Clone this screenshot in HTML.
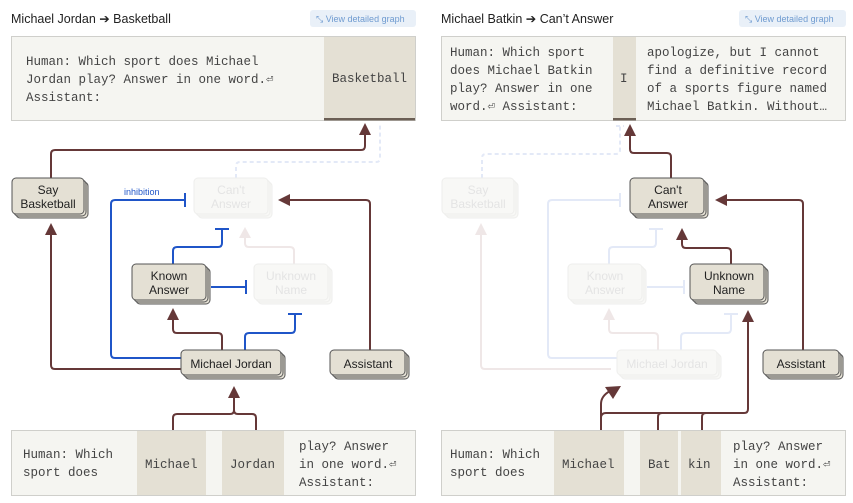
<!DOCTYPE html>
<html><head><meta charset="utf-8"><style>
html,body{margin:0;padding:0;background:#fff;}
svg{display:block;}
.t{font-family:"Liberation Sans",sans-serif;}
.m{font-family:"Liberation Mono",monospace;font-size:12.5px;fill:#444;}
.n{font-family:"Liberation Sans",sans-serif;font-size:12px;fill:#222;text-anchor:middle;}
.nf{font-family:"Liberation Sans",sans-serif;font-size:12px;fill:#e4e4e4;text-anchor:middle;}
.b{stroke:#653838;stroke-width:2;fill:none;}
.bf{stroke:#efe7e7;stroke-width:2;fill:none;}
.u{stroke:#1f55c8;stroke-width:2;fill:none;}
.uf{stroke:#e3e9f7;stroke-width:2;fill:none;}
.s rect{fill:#e4e0d4;stroke:#555;stroke-width:1;}
.f rect{fill:#f8f8f6;stroke:#eeeeec;stroke-width:1;}
</style></head><body>
<svg width="853" height="503" viewBox="0 0 853 503" xmlns="http://www.w3.org/2000/svg">
<!-- LEFT PANEL -->
<text class="t" x="11" y="23" font-size="12.5" fill="#222">Michael Jordan ➔ Basketball</text>
<rect x="310" y="10" width="106" height="17" rx="3" fill="#e9f0f8"/>
<text class="t" x="316" y="22" font-size="9" fill="#6f9bd0">⤡ View detailed graph</text>
<rect x="11.5" y="36.5" width="404" height="84" fill="#f5f5f1" stroke="#cfcfcb"/>
<rect x="324" y="37" width="91" height="83" fill="#e4e0d4"/>
<rect x="324" y="118" width="91" height="2.5" fill="#6b5f55"/>
<text class="m" x="26" y="65">Human: Which sport does Michael</text>
<text class="m" x="26" y="83">Jordan play? Answer in one word.⏎</text>
<text class="m" x="26" y="101">Assistant:</text>
<text class="m" x="332" y="82" fill="#333">Basketball</text>

<!-- left edges -->
<path class="uf" stroke-dasharray="4,3" d="M236 178 V166 Q236 162 240 162 H376 Q380 162 380 158 V124"/>
<path class="b" d="M51 178 V154 Q51 150 55 150 H361 Q365 150 365 146 V132"/>
<path d="M359 135 L365 123 L371 135 Z" fill="#653838"/>
<path class="b" d="M181 369 H55 Q51 369 51 365 V232"/>
<path d="M45 235 L51 223 L57 235 Z" fill="#653838"/>
<path class="u" d="M181 358 H115 Q111 358 111 354 V204 Q111 200 115 200 H185"/>
<path class="u" d="M185 193 V207"/>
<text class="t" x="124" y="195" font-size="9" fill="#1f55c8">inhibition</text>
<path class="u" d="M173 264 V251 Q173 247 177 247 H218 Q222 247 222 243 V229"/>
<path class="u" d="M215 229 H229"/>
<path class="bf" d="M294 264 V251 Q294 247 290 247 H249 Q245 247 245 243 V235"/>
<path d="M239 238 L245 227 L251 238 Z" fill="#efe7e7"/>
<path class="u" d="M211 287 H246 M246 280 V294"/>
<path class="b" d="M222 350 V337 Q222 333 218 333 H177 Q173 333 173 329 V318"/>
<path d="M167 320 L173 308 L179 320 Z" fill="#653838"/>
<path class="u" d="M245 350 V337 Q245 333 249 333 H291 Q295 333 295 329 V314 M288 314 H302"/>
<path class="b" d="M370 350 V204 Q370 200 366 200 H290"/>
<path d="M290 194 L278 200 L290 206 Z" fill="#653838"/>
<path class="b" d="M173 430 V418 Q173 414 177 414 H230 Q234 414 234 410 V396 M234 410 Q234 414 238 414 H252 Q256 414 256 418 V430"/>
<path d="M228 398 L234 386 L240 398 Z" fill="#653838"/>

<!-- left nodes -->
<g class="s"><rect x="16" y="182" width="72" height="36" rx="4"/><rect x="14" y="180" width="72" height="36" rx="4"/><rect x="12" y="178" width="72" height="36" rx="4"/></g>
<text class="n" x="48" y="194">Say</text><text class="n" x="48" y="208">Basketball</text>
<g class="f"><rect x="198" y="182" width="74" height="36" rx="4"/><rect x="196" y="180" width="74" height="36" rx="4"/><rect x="194" y="178" width="74" height="36" rx="4"/></g>
<text class="nf" x="231" y="194">Can't</text><text class="nf" x="231" y="208">Answer</text>
<g class="s"><rect x="136" y="268" width="74" height="36" rx="4"/><rect x="134" y="266" width="74" height="36" rx="4"/><rect x="132" y="264" width="74" height="36" rx="4"/></g>
<text class="n" x="169" y="280">Known</text><text class="n" x="169" y="294">Answer</text>
<g class="f"><rect x="258" y="268" width="74" height="36" rx="4"/><rect x="256" y="266" width="74" height="36" rx="4"/><rect x="254" y="264" width="74" height="36" rx="4"/></g>
<text class="nf" x="291" y="280">Unknown</text><text class="nf" x="291" y="294">Name</text>
<g class="s"><rect x="185" y="354" width="100" height="25" rx="4"/><rect x="183" y="352" width="100" height="25" rx="4"/><rect x="181" y="350" width="100" height="25" rx="4"/></g>
<text class="n" x="231" y="368">Michael Jordan</text>
<g class="s"><rect x="334" y="354" width="75" height="25" rx="4"/><rect x="332" y="352" width="75" height="25" rx="4"/><rect x="330" y="350" width="75" height="25" rx="4"/></g>
<text class="n" x="368" y="368">Assistant</text>

<!-- left bottom box -->
<rect x="11.5" y="430.5" width="404" height="65" fill="#f5f5f1" stroke="#cfcfcb"/>
<rect x="137" y="431" width="69" height="64" fill="#e4e0d4"/>
<rect x="222" y="431" width="62" height="64" fill="#e4e0d4"/>
<text class="m" x="23" y="458">Human: Which</text>
<text class="m" x="23" y="476">sport does</text>
<text class="m" x="145" y="468" fill="#333">Michael</text>
<text class="m" x="230" y="468" fill="#333">Jordan</text>
<text class="m" x="299" y="450">play? Answer</text>
<text class="m" x="299" y="468">in one word.⏎</text>
<text class="m" x="299" y="486">Assistant:</text>

<!-- RIGHT PANEL -->
<text class="t" x="441" y="23" font-size="12.5" fill="#222">Michael Batkin ➔ Can’t Answer</text>
<rect x="739" y="10" width="107" height="17" rx="3" fill="#e9f0f8"/>
<text class="t" x="745" y="22" font-size="9" fill="#6f9bd0">⤡ View detailed graph</text>
<rect x="441.5" y="36.5" width="404" height="84" fill="#f5f5f1" stroke="#cfcfcb"/>
<rect x="613" y="37" width="23" height="83" fill="#e4e0d4"/>
<rect x="613" y="118" width="23" height="2.5" fill="#6b5f55"/>
<text class="m" x="450" y="56">Human: Which sport</text>
<text class="m" x="450" y="74">does Michael Batkin</text>
<text class="m" x="450" y="92">play? Answer in one</text>
<text class="m" x="450" y="110">word.⏎ Assistant:</text>
<text class="m" x="620" y="82" fill="#333">I</text>
<text class="m" x="647" y="56">apologize, but I cannot</text>
<text class="m" x="647" y="74">find a definitive record</text>
<text class="m" x="647" y="92">of a sports figure named</text>
<text class="m" x="647" y="110">Michael Batkin. Without…</text>

<!-- right faded edges -->
<path class="uf" stroke-dasharray="4,3" d="M482 178 V158 Q482 154 486 154 H616 Q620 154 620 150 V126 M616 126 H624"/>
<path class="bf" d="M611 369 H485 Q481 369 481 365 V232"/>
<path d="M475 235 L481 223 L487 235 Z" fill="#efe7e7"/>
<path class="uf" d="M617 358 H552 Q548 358 548 354 V204 Q548 200 552 200 H620 M620 193 V207"/>
<path class="uf" d="M609 264 V251 Q609 247 613 247 H652 Q656 247 656 243 V229 M649 229 H663"/>
<path class="uf" d="M647 287 H684 M684 280 V294"/>
<path class="bf" d="M658 350 V337 Q658 333 654 333 H613 Q609 333 609 329 V318"/>
<path d="M603 320 L609 308 L615 320 Z" fill="#efe7e7"/>
<path class="uf" d="M681 350 V337 Q681 333 685 333 H727 Q731 333 731 329 V314 M724 314 H738"/>
<!-- right solid edges -->
<path class="b" d="M671 178 V157 Q671 153 667 153 H634 Q630 153 630 149 V133"/>
<path d="M624 136 L630 124 L636 136 Z" fill="#653838"/>
<path class="b" d="M731 264 V252 Q731 248 727 248 H686 Q682 248 682 244 V238"/>
<path d="M676 240 L682 228 L688 240 Z" fill="#653838"/>
<path class="b" d="M803 350 V204 Q803 200 799 200 H726"/>
<path d="M727 194 L715 200 L727 206 Z" fill="#653838"/>
<path class="b" d="M601 430 V404 Q601 396 610 391"/>
<path d="M605 387 L621 386 L613 399 Z" fill="#653838"/>
<path class="b" d="M601 418 Q601 413 606 413 H744 Q748 413 748 409 V320 M658 430 V417 Q658 413 662 413 M702 430 V417 Q702 413 706 413"/>
<path d="M742 322 L748 310 L754 322 Z" fill="#653838"/>

<!-- right nodes -->
<g class="f"><rect x="446" y="182" width="72" height="36" rx="4"/><rect x="444" y="180" width="72" height="36" rx="4"/><rect x="442" y="178" width="72" height="36" rx="4"/></g>
<text class="nf" x="478" y="194">Say</text><text class="nf" x="478" y="208">Basketball</text>
<g class="s"><rect x="634" y="182" width="74" height="36" rx="4"/><rect x="632" y="180" width="74" height="36" rx="4"/><rect x="630" y="178" width="74" height="36" rx="4"/></g>
<text class="n" x="668" y="194">Can't</text><text class="n" x="668" y="208">Answer</text>
<g class="f"><rect x="572" y="268" width="74" height="36" rx="4"/><rect x="570" y="266" width="74" height="36" rx="4"/><rect x="568" y="264" width="74" height="36" rx="4"/></g>
<text class="nf" x="605" y="280">Known</text><text class="nf" x="605" y="294">Answer</text>
<g class="s"><rect x="694" y="268" width="74" height="36" rx="4"/><rect x="692" y="266" width="74" height="36" rx="4"/><rect x="690" y="264" width="74" height="36" rx="4"/></g>
<text class="n" x="729" y="280">Unknown</text><text class="n" x="729" y="294">Name</text>
<g class="f"><rect x="621" y="354" width="100" height="25" rx="4"/><rect x="619" y="352" width="100" height="25" rx="4"/><rect x="617" y="350" width="100" height="25" rx="4"/></g>
<text class="nf" x="667" y="368">Michael Jordan</text>
<g class="s"><rect x="767" y="354" width="76" height="25" rx="4"/><rect x="765" y="352" width="76" height="25" rx="4"/><rect x="763" y="350" width="76" height="25" rx="4"/></g>
<text class="n" x="801" y="368">Assistant</text>

<!-- right bottom box -->
<rect x="441.5" y="430.5" width="404" height="65" fill="#f5f5f1" stroke="#cfcfcb"/>
<rect x="554" y="431" width="70" height="64" fill="#e4e0d4"/>
<rect x="640" y="431" width="38" height="64" fill="#e4e0d4"/>
<rect x="681" y="431" width="40" height="64" fill="#e4e0d4"/>
<text class="m" x="450" y="458">Human: Which</text>
<text class="m" x="450" y="476">sport does</text>
<text class="m" x="562" y="468" fill="#333">Michael</text>
<text class="m" x="648" y="468" fill="#333">Bat</text>
<text class="m" x="688" y="468" fill="#333">kin</text>
<text class="m" x="733" y="450">play? Answer</text>
<text class="m" x="733" y="468">in one word.⏎</text>
<text class="m" x="733" y="486">Assistant:</text>
</svg>
</body></html>
